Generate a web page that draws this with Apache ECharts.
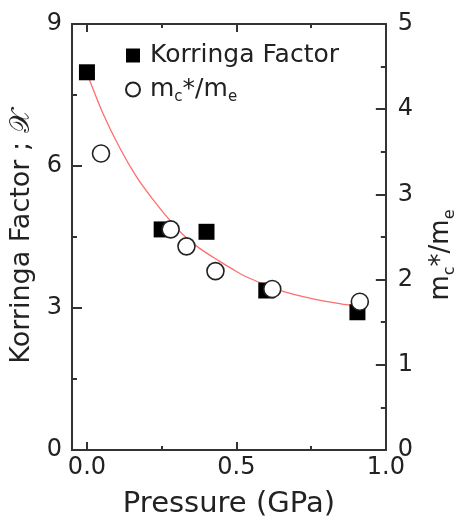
<!DOCTYPE html>
<html>
<head>
<meta charset="utf-8">
<script src="https://cdn.jsdelivr.net/npm/echarts@6/dist/echarts.min.js"></script>
<style>
html,body{margin:0;padding:0;background:#fff;}
#chart{width:466px;height:524px;}
</style>
</head>
<body>
<div id="chart"></div>
<script>
// ---- data ----
var pressureK = [0.0, 0.25, 0.40, 0.60, 0.905];
var korringa = [7.98, 4.66, 4.61, 3.37, 2.91];
var pressureM = [0.047, 0.28, 0.333, 0.43, 0.62, 0.913];
var massRatio = [3.48, 2.59, 2.39, 2.10, 1.89, 1.74];
var fitX = [0.0, 0.053, 0.11, 0.167, 0.22, 0.267, 0.32, 0.377, 0.443, 0.487, 0.533, 0.643, 0.753, 0.867, 0.91];
var fitY = [7.96, 7.12, 6.38, 5.76, 5.30, 4.93, 4.56, 4.26, 3.99, 3.82, 3.66, 3.38, 3.20, 3.07, 3.03];
var xMajorTicks = [0.0, 0.5, 1.0];
var xMinorTicks = [0.25, 0.75];
var seriesNames = ['Korringa Factor', 'mc'];

var FONT = 'DejaVu Sans';
var AX = '#333';
function zip(a, b) { return a.map(function (v, i) { return [v, b[i]]; }); }

function xAxisDef(pos, ticks, len, labels) {
  return {
    type: 'value', min: -0.05, max: 1.0, position: pos,
    splitLine: { show: false },
    axisLine: { show: true, onZero: false, lineStyle: { color: AX, width: 2 } },
    axisTick: { show: true, inside: true, length: len, customValues: ticks, lineStyle: { color: AX, width: 2 } },
    axisLabel: labels ? {
      show: true, customValues: ticks, margin: 6, fontSize: 24, color: '#222', fontFamily: FONT,
      formatter: function (v) { return Number(v).toFixed(1); }
    } : { show: false }
  };
}
var xAxes = [
  xAxisDef('bottom', xMajorTicks, 8, true),
  xAxisDef('bottom', xMinorTicks, 4, false),
  xAxisDef('top', xMajorTicks, 8, false),
  xAxisDef('top', xMinorTicks, 4, false)
];
xAxes[0].name = 'Pressure (GPa)';
xAxes[0].nameLocation = 'middle';
xAxes[0].nameGap = 40;
xAxes[0].nameTextStyle = { fontSize: 29, color: '#222', fontFamily: FONT };

var chart = echarts.init(document.getElementById('chart'), null, { renderer: 'canvas' });
chart.setOption({
  animation: false,
  backgroundColor: '#fff',
  grid: { left: 72, right: 78, top: 24, bottom: 74 },
  legend: {
    orient: 'vertical', left: 120, top: 38, itemWidth: 14, itemHeight: 14, itemGap: 6,
    data: seriesNames,
    formatter: function (name) {
      return name === 'mc' ? '{a|m}{s|c}{a|*/m}{s|e}' : '{a|' + name + '}';
    },
    textStyle: {
      color: '#222', fontFamily: FONT, padding: [0, 0, 0, 5],
      rich: {
        a: { fontSize: 25, fontFamily: FONT, color: '#222', lineHeight: 26 },
        s: { fontSize: 15, fontFamily: FONT, color: '#222', lineHeight: 26, padding: [16, 0, 0, 0] }
      }
    }
  },
  xAxis: xAxes,
  yAxis: [
    {
      type: 'value', position: 'left', min: 0, max: 9, interval: 3,
      splitLine: { show: false },
      axisLine: { show: true, onZero: false, lineStyle: { color: AX, width: 2 } },
      axisTick: { inside: true, length: 10, lineStyle: { color: AX, width: 2 } },
      minorTick: { show: true, splitNumber: 2, length: 5, lineStyle: { color: AX, width: 2 } },
      axisLabel: { margin: 10, fontSize: 24, color: '#222', fontFamily: FONT },
      name: 'Korringa Factor ; 𝒳', nameLocation: 'middle', nameGap: 34,
      nameTextStyle: { fontSize: 27, color: '#222', fontFamily: FONT }
    },
    {
      type: 'value', position: 'right', min: 0, max: 5, interval: 1,
      splitLine: { show: false },
      axisLine: { show: true, onZero: false, lineStyle: { color: AX, width: 2 } },
      axisTick: { inside: true, length: 10, lineStyle: { color: AX, width: 2 } },
      minorTick: { show: true, splitNumber: 2, length: 5, lineStyle: { color: AX, width: 2 } },
      axisLabel: { margin: 12, fontSize: 24, color: '#222', fontFamily: FONT },
      name: '{a|m}{s|c}{a|*/m}{s|e}', nameLocation: 'middle', nameGap: 40,
      nameTextStyle: {
        padding: [0, 36, 0, 0],
        rich: {
          a: { fontSize: 26, fontFamily: FONT, color: '#222', lineHeight: 30 },
          s: { fontSize: 16, fontFamily: FONT, color: '#222', lineHeight: 30, padding: [18, 0, 0, 0] }
        }
      }
    }
  ],
  series: [
    {
      name: 'fit', type: 'line', xAxisIndex: 0, yAxisIndex: 0, z: 1,
      data: zip(fitX, fitY), smooth: 0.3, showSymbol: false, symbol: 'none',
      lineStyle: { color: '#ff6e6e', width: 1.3 }, silent: true
    },
    {
      name: 'Korringa Factor', type: 'scatter', xAxisIndex: 0, yAxisIndex: 0, z: 2,
      symbol: 'rect', symbolSize: 16, data: zip(pressureK, korringa),
      itemStyle: { color: '#000', opacity: 1 }
    },
    {
      name: 'mc', type: 'scatter', xAxisIndex: 0, yAxisIndex: 1, z: 3,
      symbol: 'circle', symbolSize: 17, data: zip(pressureM, massRatio),
      itemStyle: { color: '#fff', borderColor: '#222', borderWidth: 1.6, opacity: 1 }
    }
  ]
});
</script>
</body>
</html>
